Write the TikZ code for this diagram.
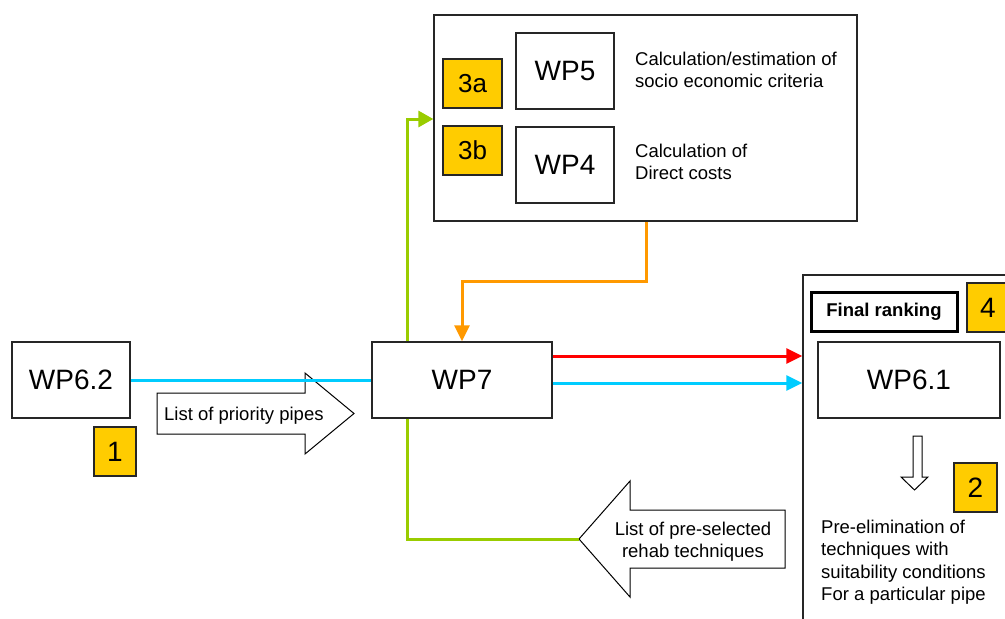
\documentclass[tikz,border=0pt]{standalone}
\usepackage{fontspec}
\setmainfont{Liberation Sans}
\usetikzlibrary{arrows.meta}
\definecolor{badgeyellow}{HTML}{FFCC00}
\definecolor{flowblue}{HTML}{00CCFF}
\definecolor{flowred}{HTML}{FF0000}
\definecolor{flowgreen}{HTML}{99CC00}
\definecolor{floworange}{HTML}{FF9900}
\begin{document}
\begin{tikzpicture}[x=1pt,y=-1pt,
  box/.style={draw=black!85, line width=1.3pt, fill=white, inner sep=0pt},
  wpbox/.style={box, font=\fontsize{28}{32}\selectfont},
  badge/.style={draw=black!85, line width=2pt, fill=badgeyellow, inner sep=0pt,
    minimum width=42pt, minimum height=49pt, font=\fontsize{28}{32}\selectfont},
  smallbadge/.style={badge, minimum width=59pt, font=\fontsize{26}{30}\selectfont},
  note/.style={font=\fontsize{18.5}{22.5}\selectfont, inner sep=0pt},
  hollow/.style={draw=black, line width=1pt, fill=white, line join=miter},
  flow/.style={line width=3pt},
  tip/.style={-{Triangle[length=16pt,width=15pt]}}
]
\useasboundingbox (0,0) rectangle (1005,619);

% calculation block (WP5 / WP4)
\node[box, minimum width=423pt, minimum height=206pt] (calc) at (645.5,118) {};
\node[smallbadge] (b3a) at (472.5,83.5) {3a};
\node[smallbadge] (b3b) at (472.5,150.5) {3b};
\node[wpbox, minimum width=98pt, minimum height=76pt] (wp5) at (565,71) {WP5};
\node[wpbox, minimum width=98pt, minimum height=76pt] (wp4) at (565,165) {WP4};
\node[note, anchor=north west, align=left] (t5) at (635,51.5)
  {Calculation/estimation of\\socio economic criteria};
\node[note, anchor=north west, align=left] (t4) at (635,143.5)
  {Calculation of\\Direct costs};

% ranking panel (open to the right and bottom)
\node[box, fill=none, minimum width=215pt, minimum height=360pt] (panel) at (910.5,455) {};
\node[draw=black, line width=3pt, inner sep=0pt, minimum width=146pt, minimum height=39pt,
  font=\fontsize{18.5}{22}\selectfont\bfseries] (rank) at (884,311.5) {Final ranking};
\node[badge] (b4) at (988,307.5) {4};
\node[wpbox, minimum width=182pt, minimum height=76pt] (wp61) at (909,380) {WP6.1};
\draw[hollow] (913,436) -- (922,436) -- (922,477) -- (928,477) -- (914.5,490)
  -- (901,477) -- (913,477) -- cycle;
\node[badge, minimum width=43pt] (b2) at (975.5,487.5) {2};
\node[note, anchor=north west, align=left] (tpre) at (821,519.5)
  {Pre-elimination of\\techniques with\\suitability conditions\\For a particular pipe};

% left side
\node[wpbox, minimum width=118pt, minimum height=76pt] (wp62) at (71,380) {WP6.2};
\node[badge] (b1) at (115,451.5) {1};
\node[wpbox, minimum width=180pt, minimum height=76pt] (wp7) at (462,380) {WP7};

% block arrows
\draw[hollow] (157,393) -- (305,393) -- (305,373) -- (354,413.5) -- (305,454)
  -- (305,434) -- (157,434) -- cycle;
\node[note, anchor=base west] (tpipes) at (164,420) {List of priority pipes};
\coordinate (rehabtip) at (579,539);
\draw[hollow] (785,510) -- (630,510) -- (630,481) -- (rehabtip) -- (630,597)
  -- (630,568) -- (785,568) -- cycle;
\node[note, anchor=north, align=center] (trehab) at (693,521.5)
  {List of pre-selected\\rehab techniques};

% connectors
\coordinate (gx) at (407,0);
\coordinate (gy) at (0,119);
\coordinate (ox) at (646,0);
\coordinate (obend) at (462,281);
\coordinate (redy) at (0,356);
\coordinate (bluey) at (0,383);

\draw[flow, flowblue] (wp62.east) -- (wp7.west);
\draw[flow, flowgreen, -{Triangle[length=15pt,width=16pt]}] (wp7.north -| gx) |- (calc.west |- gy);
\draw[flow, floworange, tip] (calc.south -| ox) |- (obend) -- (obend |- wp7.north);
\draw[flow, flowgreen] (wp7.south -| gx) |- (rehabtip);
\draw[flow, flowred, tip] (wp7.east |- redy) -- (panel.west |- redy);
\draw[flow, flowblue, tip] (wp7.east |- bluey) -- (panel.west |- bluey);
\end{tikzpicture}
\end{document}
